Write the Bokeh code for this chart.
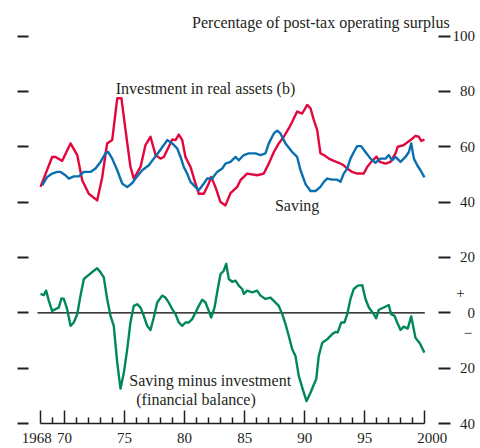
from bokeh.plotting import figure
from bokeh.models import LinearAxis, FixedTicker, Range1d, Label, CustomJSTickFormatter
from bokeh.embed import file_html
from bokeh.resources import INLINE

# ---- data ----
inv_years = [1968.00, 1968.97, 1969.25, 1969.81, 1970.50, 1971.06, 1971.47, 1972.02, 1972.72,
             1973.14, 1973.55, 1973.97, 1974.39, 1974.74, 1975.08, 1975.49, 1975.77, 1976.33,
             1976.74, 1977.16, 1977.58, 1977.99, 1978.27, 1978.68, 1978.97, 1979.24, 1979.52,
             1979.80, 1980.07, 1980.49, 1980.91, 1981.18, 1981.60, 1982.01, 1982.21, 1982.57,
             1982.99, 1983.40, 1983.82, 1984.38, 1984.65, 1985.21, 1986.04, 1986.59, 1987.01,
             1987.43, 1987.84, 1988.26, 1988.67, 1988.96, 1989.37, 1989.79, 1990.21, 1990.48,
             1990.76, 1991.04, 1991.31, 1991.59, 1992.01, 1992.42, 1992.84, 1993.25, 1993.54,
             1993.95, 1994.37, 1994.92, 1995.20, 1995.62, 1995.98, 1996.25, 1996.73, 1997.14,
             1997.56, 1997.75, 1998.25, 1998.81, 1999.22, 1999.50, 1999.70, 1999.97]
inv_vals = [45.5, 56.3, 56.3, 54.9, 61.2, 57.0, 47.9, 43.0, 40.6,
            49.0, 61.2, 62.4, 77.5, 77.5, 66.0, 52.7, 48.5, 52.7,
            60.6, 63.6, 57.0, 55.7, 56.3, 60.0, 62.6, 62.4, 64.4,
            62.4, 56.3, 52.7, 46.7, 43.0, 43.0, 46.7, 49.1, 45.4,
            40.0, 38.8, 43.2, 45.5, 47.9, 50.3, 49.7, 50.3, 53.9,
            58.1, 61.2, 63.6, 66.6, 69.0, 72.7, 72.0, 75.1, 73.9,
            69.6, 66.0, 57.6, 57.0, 55.7, 54.9, 54.2, 53.3, 52.1,
            50.9, 50.3, 50.3, 52.7, 54.9, 56.4, 54.5, 53.9, 54.5,
            57.6, 60.0, 60.6, 62.4, 63.9, 63.6, 62.1, 62.6]

sav_years = [1968.14, 1968.56, 1968.97, 1969.39, 1969.67, 1970.08, 1970.36, 1970.77, 1971.19,
             1971.61, 1972.16, 1972.58, 1973.00, 1973.41, 1973.64, 1973.97, 1974.39, 1974.80,
             1975.22, 1975.64, 1975.91, 1976.47, 1977.02, 1977.43, 1977.85, 1978.27, 1978.55,
             1978.97, 1979.38, 1979.66, 1979.93, 1980.21, 1980.49, 1980.91, 1981.18, 1981.60,
             1981.88, 1982.30, 1982.71, 1983.13, 1983.40, 1983.82, 1984.24, 1984.51, 1984.93,
             1985.34, 1985.90, 1986.32, 1986.73, 1987.01, 1987.43, 1987.71, 1987.98, 1988.40,
             1988.96, 1989.37, 1989.65, 1990.07, 1990.48, 1990.90, 1991.31, 1991.59, 1991.87,
             1992.29, 1992.70, 1992.98, 1993.25, 1993.54, 1993.81, 1994.09, 1994.37, 1994.70,
             1995.06, 1995.48, 1995.89, 1996.31, 1996.73, 1997.00, 1997.28, 1997.56, 1997.98,
             1998.39, 1998.67, 1998.87, 1999.09, 1999.37, 1999.64, 1999.97]
sav_vals = [46.0, 49.1, 50.3, 50.9, 50.9, 49.7, 48.5, 49.3, 49.3,
            50.9, 50.9, 52.1, 54.5, 57.6, 58.1, 55.7, 51.5, 46.7,
            45.4, 46.9, 48.5, 51.5, 53.3, 55.7, 58.1, 60.6, 62.4,
            61.2, 59.4, 56.3, 52.7, 50.3, 47.3, 45.4, 44.3, 46.7,
            48.5, 48.5, 50.9, 52.1, 53.9, 54.5, 56.3, 55.1, 57.0,
            57.6, 57.6, 57.0, 57.6, 61.2, 64.8, 65.8, 64.8, 61.2,
            58.1, 56.3, 51.5, 46.5, 44.0, 44.0, 45.5, 47.3, 48.5,
            48.1, 48.1, 47.3, 50.3, 52.1, 55.7, 58.1, 60.2, 60.2,
            58.1, 55.7, 54.2, 55.7, 55.7, 57.0, 55.1, 56.3, 54.5,
            56.3, 58.1, 61.2, 55.7, 53.3, 51.5, 48.9]

bal_years = [1968.00, 1968.27, 1968.47, 1968.69, 1968.97, 1969.25, 1969.52, 1969.75, 1969.94,
             1970.22, 1970.50, 1970.77, 1971.06, 1971.33, 1971.61, 1972.02, 1972.44, 1972.72,
             1973.00, 1973.27, 1973.55, 1973.83, 1974.10, 1974.39, 1974.66, 1974.94, 1975.22,
             1975.49, 1975.77, 1976.05, 1976.33, 1976.60, 1976.88, 1977.16, 1977.43, 1977.72,
             1978.13, 1978.41, 1978.68, 1978.97, 1979.24, 1979.52, 1979.80, 1980.07, 1980.35,
             1980.63, 1980.91, 1981.18, 1981.46, 1981.74, 1982.01, 1982.21, 1982.49, 1982.76,
             1982.99, 1983.26, 1983.46, 1983.68, 1983.96, 1984.24, 1984.51, 1984.79, 1984.93,
             1985.21, 1985.63, 1986.04, 1986.32, 1986.73, 1987.15, 1987.57, 1987.84, 1988.13,
             1988.40, 1988.67, 1988.96, 1989.23, 1989.51, 1989.84, 1990.15, 1990.48, 1990.76,
             1990.96, 1991.17, 1991.46, 1991.87, 1992.29, 1992.56, 1992.75, 1993.04, 1993.31,
             1993.54, 1993.81, 1994.09, 1994.42, 1994.79, 1995.06, 1995.34, 1995.75, 1995.95,
             1996.17, 1996.58, 1997.00, 1997.20, 1997.48, 1997.70, 1997.98, 1998.25, 1998.58,
             1998.87, 1999.22, 1999.58, 1999.97]
bal_vals = [6.8, 6.4, 8.0, 4.4, 0.7, 1.3, 1.9, 5.2, 5.0,
            1.3, -4.7, -3.5, -0.5, 6.2, 12.2, 13.7, 15.2, 16.1,
            14.6, 12.8, 5.0, -1.1, -4.7, -18.0, -27.4, -21.7, -13.2,
            -3.5, 2.5, 3.1, 1.9, -1.1, -4.7, -6.2, -1.7, 3.7,
            6.2, 5.5, 3.7, 1.3, -0.5, -3.5, -4.7, -3.5, -3.5,
            -2.3, 0.1, 2.5, 4.7, 3.7, 0.7, -1.7, 1.9, 8.6,
            14.0, 15.2, 17.7, 12.2, 11.2, 11.6, 9.8, 8.6, 6.8,
            8.0, 7.4, 8.0, 6.2, 5.0, 5.5, 3.7, 2.5, -0.5,
            -4.1, -8.3, -13.2, -15.6, -22.9, -27.7, -31.9, -28.9, -25.9,
            -24.0, -15.6, -10.8, -9.6, -7.7, -6.9, -7.1, -3.5, -3.5,
            -0.5, 5.0, 8.6, 9.8, 10.0, 5.0, 1.9, -0.5, -2.0,
            1.1, 1.9, 2.8, -0.5, -1.1, -3.5, -6.2, -5.0, -5.7,
            -1.3, -9.0, -11.0, -14.4]

y_ticks = [100, 80, 60, 40, 20, 0, -20, -40]
# the zero label carries the "+" (above) and "−" (below) sign markers
y_tick_labels = ["100", "\u200780", "\u200760", "\u200740", "\u200720",
                 "\u00a0+\n\u2007\u20070\n\u2007\u00a0\u2212", "\u200720", "\u200740"]
x_major = [1968, 1970, 1975, 1980, 1985, 1990, 1995, 2000]
x_major_labels = ["1968\u2007", "70", "75", "80", "85", "90", "95", "\u2007\u20072000"]
x_minor = [1969, 1971, 1972, 1973, 1974, 1976, 1977, 1978, 1979, 1981, 1982, 1983, 1984,
           1986, 1987, 1988, 1989, 1991, 1992, 1993, 1994, 1996, 1997, 1998, 1999]

RED = "#E2063C"
BLUE = "#0A6FB0"
GREEN = "#00875C"
INK = "#231F20"
FONT = "Liberation Serif"

p = figure(width=480, height=448,
           x_range=Range1d(1966.085, 2002.139), y_range=Range1d(-40, 112.83),
           output_backend="svg", toolbar_location=None,
           x_axis_location=None, y_axis_location=None,
           min_border_left=17, min_border_right=30, min_border_top=0, min_border_bottom=25)
p.outline_line_color = None
for g in p.grid:
    g.visible = False

left = LinearAxis(ticker=FixedTicker(ticks=y_ticks, minor_ticks=[]),
                  formatter=CustomJSTickFormatter(code="return ''"),
                  axis_line_color=None, major_tick_in=11, major_tick_out=0,
                  major_tick_line_width=2, major_tick_line_color=INK,
                  minor_tick_line_color=None, major_label_standoff=0)
p.add_layout(left, "left")

right = LinearAxis(ticker=FixedTicker(ticks=y_ticks, minor_ticks=[]),
                   major_label_overrides=dict(zip(y_ticks, y_tick_labels)),
                   axis_line_color=None, major_tick_in=12, major_tick_out=0,
                   major_tick_line_width=2, major_tick_line_color=INK,
                   minor_tick_line_color=None, major_label_standoff=2,
                   major_label_text_font=FONT, major_label_text_font_size="15px",
                   major_label_text_color=INK, major_label_text_line_height=1.25)
p.add_layout(right, "right")

bottom = LinearAxis(ticker=FixedTicker(ticks=x_major, minor_ticks=x_minor),
                    major_label_overrides=dict(zip(x_major, x_major_labels)),
                    bounds=(1968, 2000), axis_line_width=1.5, axis_line_color=INK,
                    major_tick_in=13, major_tick_out=0, minor_tick_in=6, minor_tick_out=0,
                    major_tick_line_width=1.5, minor_tick_line_width=1.5,
                    major_tick_line_color=INK, minor_tick_line_color=INK,
                    major_label_standoff=6, major_label_text_font=FONT,
                    major_label_text_font_size="15px", major_label_text_color=INK)
p.add_layout(bottom, "below")

# zero line
p.line(x=[x_major[0] - 0.25, x_major[-1]], y=[0, 0], line_color="black", line_width=1.3)

p.line(inv_years, inv_vals, line_color=RED, line_width=2.4, line_join="round")
p.line(sav_years, sav_vals, line_color=BLUE, line_width=2.4, line_join="round")
p.line(bal_years, bal_vals, line_color=GREEN, line_width=2.4, line_join="round")

def lab(x, y, text, align="center", size="16px"):
    p.add_layout(Label(x=x, y=y, text=text, text_font=FONT, text_font_size=size,
                       text_color=INK, text_align=align, text_baseline="middle",
                       level="overlay"))

lab(1991.35, 105.06, "Percentage of post-tax operating surplus")
lab(1981.74, 80.9, "Investment in real assets (b)")
lab(1989.37, 38.8, "Saving")
lab(1982.13, -24.6, "Saving minus investment")
lab(1980.95, -31.3, "(financial balance)")

open("out.html", "w").write(file_html(p, INLINE))
